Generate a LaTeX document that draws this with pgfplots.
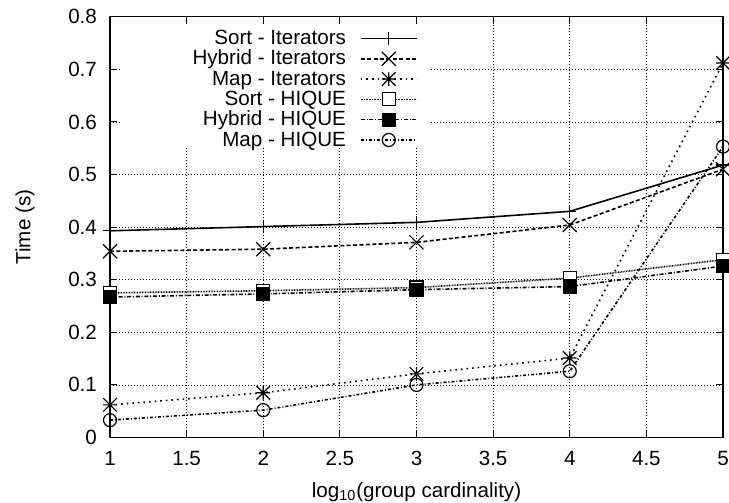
\documentclass[border=0pt]{standalone}
\usepackage{fontspec}
\setmainfont{Liberation Sans}
\usepackage{pgfplots}
\pgfplotsset{compat=1.18}

% gnuplot-style cross and star marks (arms reach the corners of the mark box)
\pgfdeclareplotmark{gpx}{%
  \pgfpathmoveto{\pgfqpoint{-\pgfplotmarksize}{-\pgfplotmarksize}}%
  \pgfpathlineto{\pgfqpoint{\pgfplotmarksize}{\pgfplotmarksize}}%
  \pgfpathmoveto{\pgfqpoint{-\pgfplotmarksize}{\pgfplotmarksize}}%
  \pgfpathlineto{\pgfqpoint{\pgfplotmarksize}{-\pgfplotmarksize}}%
  \pgfusepathqstroke}
\pgfdeclareplotmark{gpstar}{%
  \pgfpathmoveto{\pgfqpoint{-\pgfplotmarksize}{0pt}}%
  \pgfpathlineto{\pgfqpoint{\pgfplotmarksize}{0pt}}%
  \pgfpathmoveto{\pgfqpoint{0pt}{-\pgfplotmarksize}}%
  \pgfpathlineto{\pgfqpoint{0pt}{\pgfplotmarksize}}%
  \pgfpathmoveto{\pgfqpoint{-\pgfplotmarksize}{-\pgfplotmarksize}}%
  \pgfpathlineto{\pgfqpoint{\pgfplotmarksize}{\pgfplotmarksize}}%
  \pgfpathmoveto{\pgfqpoint{-\pgfplotmarksize}{\pgfplotmarksize}}%
  \pgfpathlineto{\pgfqpoint{\pgfplotmarksize}{-\pgfplotmarksize}}%
  \pgfusepathqstroke}

\begin{document}
\begin{tikzpicture}[font=\fontsize{10.3}{12}\selectfont]
\path[use as bounding box] (-55pt,-32.75pt) rectangle (309.5pt,218.75pt);
\begin{axis}[
  scale only axis,
  width=306.5pt, height=210.4pt,
  xmin=1, xmax=5, ymin=0, ymax=0.8,
  clip=false,
  font=\fontsize{10.3}{12}\selectfont,
  axis line style={black, line width=0.7pt},
  xtick={1,1.5,2,2.5,3,3.5,4,4.5,5},
  xticklabels={1,1.5,2,2.5,3,3.5,4,4.5,5},
  ytick={0,0.1,0.2,0.3,0.4,0.5,0.6,0.7,0.8},
  yticklabels={0,0.1,0.2,0.3,0.4,0.5,0.6,0.7,0.8},
  /pgf/number format/assume math mode=true,
  tick align=inside,
  major tick length=3.5pt,
  tick style={black, line width=0.5pt},
  xticklabel style={yshift=-3.5pt},
  yticklabel style={xshift=-3pt},
  grid=major,
  major grid style={black, line width=0.4pt, dash pattern=on 0.5pt off 1pt},
  xlabel={log\textsubscript{10}(group cardinality)},
  ylabel={Time (s)},
  xlabel style={at={(axis description cs:0.5,-0.1426)}, anchor=base},
  ylabel style={at={(axis description cs:-0.1387,0.5)}, anchor=center},
  legend plot pos=right,
  legend cell align=right,
  legend style={draw=none, fill=none,
    at={(rel axis cs:0.5024,1)}, yshift=-5.6pt, anchor=north east,
    inner sep=0pt, row sep=0pt, column sep=7pt,
    font=\fontsize{10.3}{12}\selectfont,
    nodes={text height=8.1pt, text depth=2.05pt, inner sep=0pt}},
  legend image code/.code={%
    \draw[mark repeat=2,mark phase=2] plot coordinates {(0pt,0pt) (14pt,0pt) (28pt,0pt)};},
  every axis plot/.append style={black, line width=0.8pt},
]

% opaque key area: the grid is not drawn behind the key
\fill[white] (rel axis cs:0.0163,0.688) rectangle (rel axis cs:0.522,0.980);

\addplot[mark=+, mark size=3.3pt, mark options={solid, line width=0.6pt}]
  coordinates {(1,0.393) (2,0.401) (3,0.409) (4,0.430) (5,0.518)};
\addlegendentry{Sort - Iterators}

\addplot[dash pattern=on 2pt off 1.2pt, mark=gpx, mark size=3.5pt, mark options={solid, line width=0.6pt}]
  coordinates {(1,0.354) (2,0.358) (3,0.371) (4,0.404) (5,0.510)};
\addlegendentry{Hybrid - Iterators}

\addplot[dash pattern=on 0.8pt off 2pt, mark=gpstar, mark size=3.4pt, mark options={solid, line width=0.6pt}]
  coordinates {(1,0.062) (2,0.085) (3,0.121) (4,0.151) (5,0.712)};
\addlegendentry{Map - Iterators}

\addplot[dash pattern=on 0.4pt off 0.4pt, mark=square*, mark size=3.25pt, mark options={solid, line width=0.6pt, fill=white}]
  coordinates {(1,0.275) (2,0.279) (3,0.285) (4,0.303) (5,0.338)};
\addlegendentry{Sort - HIQUE}

\addplot[dash pattern=on 2pt off 0.9pt on 0.5pt off 0.9pt, mark=square*, mark size=3.25pt, mark options={solid, line width=0.6pt, fill=black}]
  coordinates {(1,0.267) (2,0.273) (3,0.281) (4,0.287) (5,0.326)};
\addlegendentry{Hybrid - HIQUE}

\addplot[dash pattern=on 1.5pt off 1pt on 0.5pt off 1pt, mark=o, mark size=3.25pt, mark options={solid, line width=0.6pt}]
  coordinates {(1,0.033) (2,0.052) (3,0.100) (4,0.126) (5,0.553)};
\addlegendentry{Map - HIQUE}

\end{axis}
\end{tikzpicture}
\end{document}
